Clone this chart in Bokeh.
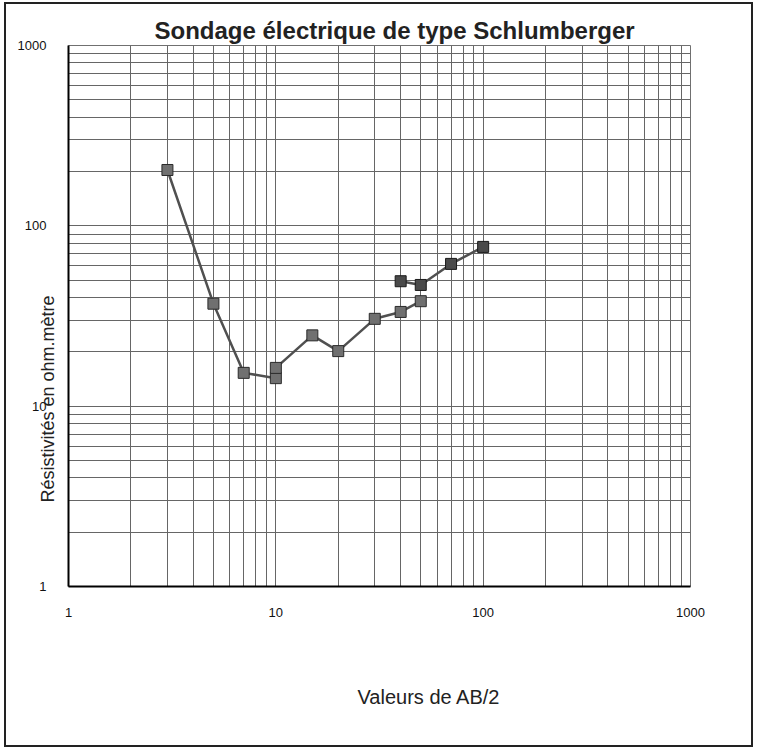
import numpy as np
from bokeh.plotting import figure
from bokeh.models import (Range1d, Title, FixedTicker, NumeralTickFormatter, LogAxis,
                          CustomJSTickFormatter)
from bokeh.embed import file_html
from bokeh.resources import INLINE

# --- data ---
ab2_series1 = [3, 5, 7, 10, 10, 15, 20, 30, 40, 50]
rho_series1 = [204, 37, 15.3, 14.3, 16.3, 24.7, 20.2, 30.5, 33.3, 38.2]
ab2_series2 = [40, 50, 70, 100]
rho_series2 = [49.3, 47, 61.5, 76.4]
tick_values = [1, 10, 100, 1000]

title_text = "Sondage électrique de type Schlumberger"
x_label_text = "Valeurs de AB/2"
y_label_text = "Résistivités en ohm.mètre"

FONT = "Liberation Sans"

p = figure(width=749, height=745, x_axis_type="log", y_axis_type="log",
           x_range=Range1d(1, 1000), y_range=Range1d(1, 1000),
           output_backend="svg", toolbar_location=None,
           min_border_left=62, min_border_top=41, min_border_right=65,
           min_border_bottom=163)
p.styles = {"border": "2px solid #222", "margin-left": "4px", "margin-top": "2px"}
p.background_fill_color = "white"
p.border_fill_color = "white"
p.outline_line_color = "#707070"

for ax in (p.xaxis, p.yaxis):
    ax.ticker = FixedTicker(ticks=tick_values,
                            minor_ticks=[m * 10 ** k for k in range(3) for m in range(2, 10)])
    ax.formatter = NumeralTickFormatter(format="0")
    ax.major_tick_line_color = None
    ax.minor_tick_line_color = None
    ax.axis_line_color = "black"
    ax.axis_line_width = 2
    ax.major_label_text_font = FONT
    ax.major_label_text_font_size = "13px"
    ax.major_label_text_color = "#111"
p.xaxis.major_label_standoff = 15
p.yaxis.major_label_standoff = 16

for g in (p.xgrid, p.ygrid):
    g.grid_line_color = "#666666"
    g.grid_line_width = 1
    g.minor_grid_line_color = "#666666"
    g.minor_grid_line_width = 1

# series
p.line(ab2_series1, rho_series1, line_color="#505050", line_width=2.5)
p.line(ab2_series2, rho_series2, line_color="#505050", line_width=2.5)
p.scatter(ab2_series1, rho_series1, marker="square", size=11,
          fill_color="#707070", line_color="#2a2a2a", line_width=1)
p.scatter(ab2_series2, rho_series2, marker="square", size=11,
          fill_color="#4a4a4a", line_color="#1a1a1a", line_width=1)

# invisible spacer panel below the x axis (invisible tick, empty label)
spacer = LogAxis(ticker=FixedTicker(ticks=[10], minor_ticks=[]), major_tick_out=64,
                 minor_tick_out=0, major_tick_in=0, minor_tick_in=0,
                 major_label_standoff=0,
                 formatter=CustomJSTickFormatter(code="return ''"),
                 axis_line_color=None, major_tick_line_color=None,
                 minor_tick_line_color=None)
p.add_layout(spacer, "below")

# texts
p.title = Title(text=title_text, align="left", offset=86, standoff=4,
                text_font=FONT, text_font_size="24px", text_font_style="bold",
                text_color="#222")
p.add_layout(Title(text=x_label_text, align="left", offset=289, standoff=0,
                   vertical_align="bottom",
                   text_font=FONT, text_font_size="20px", text_font_style="normal",
                   text_color="#222"), "below")
p.add_layout(Title(text=y_label_text, align="left", offset=84, standoff=-87,
                   text_font=FONT, text_font_size="18px", text_font_style="normal",
                   text_color="#222"), "left")

open("out.html", "w").write(file_html(p, INLINE))
